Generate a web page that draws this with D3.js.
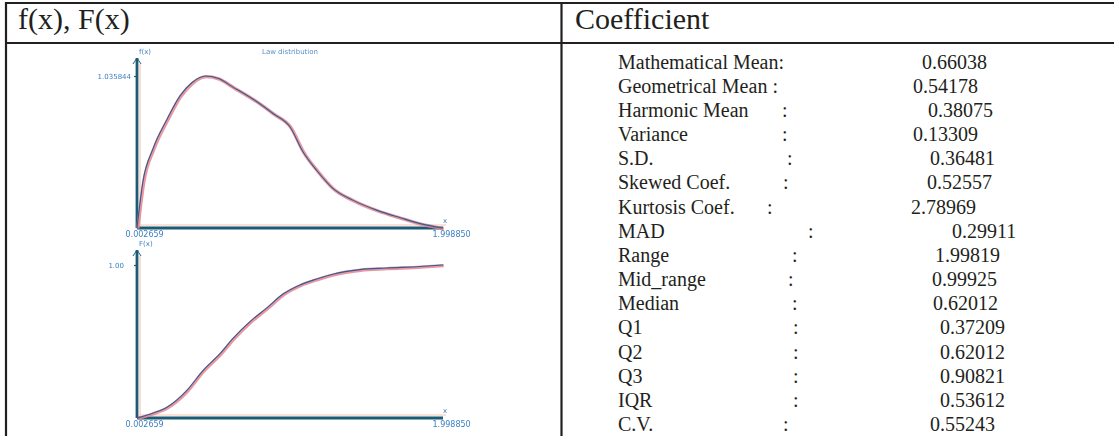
<!DOCTYPE html>
<html>
<head>
<meta charset="utf-8">
<script src="https://cdn.jsdelivr.net/npm/d3@7/dist/d3.min.js"></script>
<style>
  html, body { margin: 0; padding: 0; background: #fff; }
  svg { display: block; }
</style>
</head>
<body>
<svg id="chart" width="1114" height="436"></svg>
<script>
// ---------------- DATA ----------------
const headerLabels = ["f(x), F(x)", "Coefficient"];

const statLabels = [
  "Mathematical Mean:", "Geometrical Mean :", "Harmonic Mean", "Variance",
  "S.D.", "Skewed Coef.", "Kurtosis Coef.", "MAD", "Range", "Mid_range",
  "Median", "Q1", "Q2", "Q3", "IQR", "C.V."
];
const statValues = [
  0.66038, 0.54178, 0.38075, 0.13309, 0.36481, 0.52557, 2.78969, 0.29911,
  1.99819, 0.99925, 0.62012, 0.37209, 0.62012, 0.90821, 0.53612, 0.55243
];
const statHasColon = [false, false, true, true, true, true, true, true,
  true, true, true, true, true, true, true, true];

// density f(x)
const fxX = [0.002659, 0.042, 0.107, 0.198, 0.283, 0.36, 0.45, 0.53, 0.629,
  0.785, 0.89, 1.0, 1.085, 1.177, 1.28, 1.41, 1.57, 1.72, 1.85, 1.99885];
const fxY = [0, 0.32, 0.54, 0.74, 0.90, 0.99, 1.035844, 1.02, 0.96,
  0.86, 0.78, 0.69, 0.52, 0.39, 0.27, 0.19, 0.12, 0.07, 0.03, 0.0];

// cumulative F(x)
const cdfX = [0.002659, 0.1, 0.198, 0.328, 0.433, 0.544, 0.629, 0.74, 0.85,
  0.955, 1.066, 1.18, 1.28, 1.457, 1.63, 1.85, 1.99885];
const cdfY = [0, 0.03, 0.07, 0.18, 0.31, 0.42, 0.52, 0.63, 0.72,
  0.81, 0.87, 0.91, 0.94, 0.97, 0.98, 0.99, 1.0];

const xTickValues = [0.002659, 1.99885];
const xTickLabels = ["0.002659", "1.998850"];
const fTickValues = [1.035844];
const fTickLabels = ["1.035844"];
const cdfTickValues = [1.0];
const cdfTickLabels = ["1.00"];
const plotTitle = "Law distribution";

// ---------------- LAYOUT (not data) ----------------
const ink = "#231f20";
const serif = "'Liberation Serif', 'Times New Roman', serif";
const colonX = [0, 0, 782, 782, 787, 783, 767, 808, 792, 788, 792, 793, 793, 793, 793, 783];
const valueX = [922, 913, 928, 913, 930, 927, 911, 952, 935, 932, 933, 940, 940, 940, 940, 930];

const svg = d3.select("#chart");

// table lines
const lines = svg.append("g").attr("stroke", ink).attr("stroke-width", 2.2);
lines.append("line").attr("x1", 5).attr("x2", 1114).attr("y1", 3).attr("y2", 3);
lines.append("line").attr("x1", 5).attr("x2", 1114).attr("y1", 43).attr("y2", 43);
lines.append("line").attr("x1", 6).attr("x2", 6).attr("y1", 2).attr("y2", 436);
lines.append("line").attr("x1", 561.5).attr("x2", 561.5).attr("y1", 2).attr("y2", 436);

// header
svg.selectAll("text.hdr").data(headerLabels).join("text")
  .attr("class", "hdr")
  .attr("x", (d, i) => i === 0 ? 18 : 575)
  .attr("y", 29)
  .attr("font-family", serif).attr("font-size", 30).attr("fill", ink)
  .text(d => d);

// stats rows
const rowY = d3.scaleLinear().domain([0, statLabels.length - 1]).range([68.5, 431]);
const fmt = d3.format(".5f");
const rows = svg.append("g").attr("font-family", serif).attr("font-size", 20).attr("fill", ink);
rows.selectAll("text.lab").data(statLabels).join("text")
  .attr("class", "lab").attr("x", 618).attr("y", (d, i) => rowY(i)).text(d => d);
rows.selectAll("text.col").data(statLabels.map((d, i) => i).filter(i => statHasColon[i])).join("text")
  .attr("class", "col").attr("x", i => colonX[i]).attr("y", i => rowY(i)).text(":");
rows.selectAll("text.val").data(statValues).join("text")
  .attr("class", "val").attr("x", (d, i) => valueX[i]).attr("y", (d, i) => rowY(i)).text(d => fmt(d));

// ---------------- PLOTS ----------------
const defs = svg.append("defs");
defs.append("filter").attr("id", "soft").attr("x", "-5%").attr("y", "-5%").attr("width", "110%").attr("height", "110%")
  .append("feGaussianBlur").attr("stdDeviation", 0.7);

const axisCol = "#1d5a74";
const pink = "#e9848f";
const blue = "#2f5f92";
const labelBlue = "#3b7fc0";
const plots = svg.append("g").attr("filter", "url(#soft)");

const x = d3.scaleLinear().domain([xTickValues[0], xTickValues[1]]).range([137, 443]);
const yTop = d3.scaleLinear().domain([0, 1.035844]).range([228, 76]);
const yBot = d3.scaleLinear().domain([0, 1]).range([418, 265]);

function drawPlot(g, y, xs, ys, yTicks, yLabels, yName, yAxisTop, showTitle) {
  const y0 = y(0);
  // pale shadow lines
  g.append("line").attr("x1", 140).attr("x2", 446).attr("y1", y0 - 3).attr("y2", y0 - 3)
    .attr("stroke", "#f6c6b4").attr("stroke-width", 1.2);
  g.append("line").attr("x1", 140).attr("x2", 140).attr("y1", yAxisTop + 6).attr("y2", y0)
    .attr("stroke", "#f6c6b4").attr("stroke-width", 1.2);

  // x axis
  const xa = d3.axisBottom(x).tickValues(xTickValues).tickSize(0).tickPadding(2)
    .tickFormat((d, i) => xTickLabels[i]);
  const gx = g.append("g").attr("transform", `translate(0,${y0})`).call(xa);
  gx.select(".domain").attr("d", `M137,0H443`).attr("stroke", axisCol).attr("stroke-width", 2.8);
  gx.selectAll("text").attr("font-family", "DejaVu Sans, sans-serif").attr("font-size", 8)
    .attr("fill", labelBlue).attr("text-anchor", "start")
    .attr("dx", (d, i) => i === 0 ? -12 : -11).attr("dy", "0.85em");

  // y axis
  const ya = d3.axisLeft(y).tickValues(yTicks).tickSize(3).tickFormat((d, i) => yLabels[i]);
  const gy = g.append("g").attr("transform", `translate(137,0)`).call(ya);
  gy.select(".domain").attr("d", `M0,${yAxisTop}V${y0}`).attr("stroke", axisCol).attr("stroke-width", 2.8);
  gy.selectAll(".tick line").attr("stroke", axisCol).attr("stroke-width", 1.2);
  gy.selectAll("text").attr("font-family", "DejaVu Sans, sans-serif").attr("font-size", 7)
    .attr("fill", labelBlue).attr("dx", yName === "F(x)" ? -7 : 0);

  // arrows
  g.append("path").attr("d", `M133,${yAxisTop + 6}L137,${yAxisTop}L141,${yAxisTop + 6}`)
    .attr("fill", "none").attr("stroke", axisCol).attr("stroke-width", 1);
  g.append("text").attr("x", 443).attr("y", y0 - 5).attr("font-family", "DejaVu Sans, sans-serif")
    .attr("font-size", 7).attr("fill", labelBlue).text("x");

  // axis name
  g.append("text").attr("x", 139).attr("y", yAxisTop - 4).attr("font-family", "DejaVu Sans, sans-serif")
    .attr("font-size", 7).attr("fill", labelBlue).text(yName);
  if (showTitle) {
    g.append("text").attr("x", 290).attr("y", yAxisTop - 4).attr("text-anchor", "middle")
      .attr("font-family", "DejaVu Sans, sans-serif").attr("font-size", 7)
      .attr("fill", "#5a8fc4").text(plotTitle);
  }

  // curve
  const pts = xs.map((v, i) => [v, ys[i]]);
  const line = d3.line().x(d => x(d[0])).y(d => y(d[1])).curve(d3.curveMonotoneX);
  g.append("path").datum(pts).attr("d", line).attr("fill", "none")
    .attr("stroke", pink).attr("stroke-width", 3.4).attr("stroke-opacity", 0.85)
    .attr("transform", "translate(0.8,0.6)");
  g.append("path").datum(pts).attr("d", line).attr("fill", "none")
    .attr("stroke", blue).attr("stroke-width", 1.1);
}

drawPlot(plots.append("g"), yTop, fxX, fxY, fTickValues, fTickLabels, "f(x)", 58, true);
drawPlot(plots.append("g"), yBot, cdfX, cdfY, cdfTickValues, cdfTickLabels, "F(x)", 250, false);
</script>
</body>
</html>
